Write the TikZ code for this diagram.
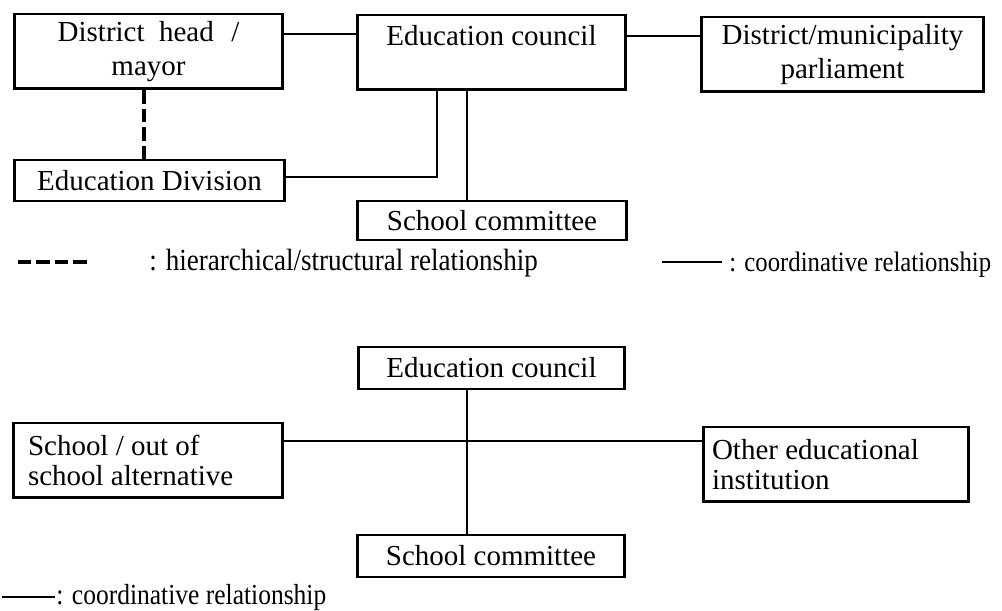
\documentclass[tikz,border=0pt]{standalone}
\usepackage{fontspec}
\setmainfont{Liberation Serif}
\newfontfamily\narrowfont[FakeStretch=0.88]{Liberation Serif}
\usetikzlibrary{positioning,calc}

\begin{document}
\begin{tikzpicture}[x=0.02cm,y=-0.02cm,
  box/.style={draw,line width=1.7pt,inner sep=0pt,font=\fontsize{16.5}{19.5}\selectfont},
  link/.style={line width=1.1pt},
  hier/.style={line width=2.8pt,dash pattern=on 7.5pt off 3pt},
  note/.style={anchor=west,inner sep=0pt,font=\narrowfont\fontsize{16.5}{19.5}\selectfont}]
\useasboundingbox (0,0) rectangle (1002,611);
\node[box,minimum width=5.38cm,minimum height=1.5cm] (0) at (148.5,51.5) {\begin{minipage}{5cm}\centering District\hspace{0.5em}head\hspace{0.6em}/\hspace*{0.9em}\\ mayor\end{minipage}};
\node[box,minimum width=5.38cm,minimum height=1.5cm] (1) at (491.5,52.5) {\begin{minipage}{5cm}\centering Education council\\ \mbox{}\end{minipage}};
\node[box,minimum width=5.66cm,minimum height=1.5cm] (2) at (842.5,54.5) {\begin{minipage}{5.4cm}\centering District/municipality\\ parliament\end{minipage}};
\node[box,minimum width=5.42cm,minimum height=0.82cm] (3) at (149.5,180.5) {Education Division};
\node[box,minimum width=5.4cm,minimum height=0.78cm] (4) at (492,220.5) {School committee};
\draw[link] ([yshift=0.35cm]0.east) -- ([yshift=0.35cm]0.east -| 1.west);
\draw[link] ([yshift=0.33cm]1.east) -- ([yshift=0.33cm]1.east -| 2.west);
\draw[hier] ([xshift=-0.09cm]0.south) -- ([xshift=-0.09cm]0.south |- 3.north);
\draw[link] ([xshift=-1.09cm]1.south) |- ([yshift=0.07cm]3.east);
\draw[link] ([xshift=-0.49cm]1.south) -- ([xshift=-0.49cm]1.south |- 4.north);

\coordinate (h1) at (18,262);
\coordinate (h2) at (88,262);
\draw[hier] (h1) -- (h2);
\node[note,font=\narrowfont\fontsize{17.5}{20}\selectfont] (5) at (149,263) {: hierarchical/structural relationship};
\coordinate (c1) at (662,262);
\coordinate (c2) at (722,262);
\draw[link] (c1) -- (c2);
\node[note,font=\narrowfont\fontsize{16}{19}\selectfont] (6) at (729,265) {: coordinative relationship};

\node[box,minimum width=5.34cm,minimum height=0.84cm] (7) at (491.5,368) {Education council};
\node[box,minimum width=5.4cm,minimum height=1.5cm] (8) at (148,460.5) {\begin{minipage}{4.8cm}\baselineskip=17pt School / out of\\ school alternative\end{minipage}};
\node[box,minimum width=5.32cm,minimum height=1.5cm] (9) at (836,464.5) {\begin{minipage}{4.96cm}\baselineskip=17pt Other educational\\ institution\end{minipage}};
\node[box,minimum width=5.36cm,minimum height=0.84cm] (10) at (491,556) {School committee};
\draw[link] ([xshift=-0.49cm]7.south) -- ([xshift=-0.49cm]7.south |- 10.north);
\draw[link] ([yshift=0.39cm]8.east) -- ([yshift=0.39cm]8.east -| 9.west);

\coordinate (c3) at (2,597);
\coordinate (c4) at (55,597);
\draw[link] (c3) -- (c4);
\node[note] (11) at (56,598) {: coordinative relationship};
\end{tikzpicture}
\end{document}
